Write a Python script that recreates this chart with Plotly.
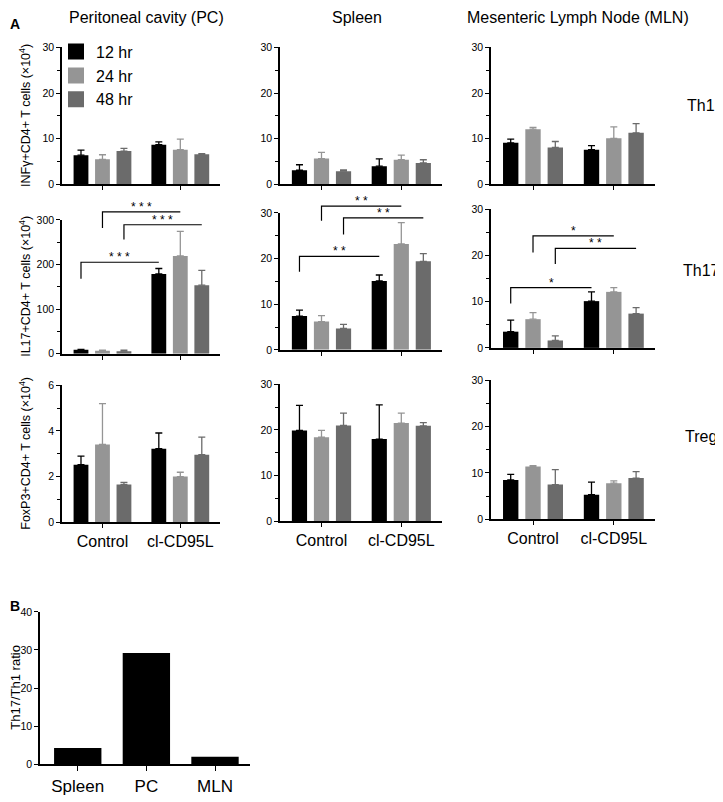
import plotly.graph_objects as go

# ---------------- data ----------------
groups = ["Control", "cl-CD95L"]
times = ["12 hr", "24 hr", "48 hr"]
colors = ["#000000", "#959595", "#6b6b6b"]

# values per time point: [Control, cl-CD95L]
pc_th1 = [[6.4, 8.7], [5.5, 7.6], [7.3, 6.6]]
pc_th1_err = [[1.1, 0.6], [1.0, 2.3], [0.6, 0.15]]
sp_th1 = [[3.1, 4.0], [5.65, 5.4], [2.9, 4.7]]
sp_th1_err = [[1.2, 1.6], [1.35, 1.0], [0.3, 0.7]]
mln_th1 = [[9.1, 7.6], [12.1, 10.1], [8.1, 11.3]]
mln_th1_err = [[0.8, 0.9], [0.4, 2.5], [1.3, 2.0]]

pc_th17 = [[8.8, 178.7], [6.6, 219.0], [5.9, 153.7]]
pc_th17_err = [[1.2, 12.3], [1.4, 55.0], [2.1, 33.3]]
sp_th17 = [[7.4, 15.1], [6.2, 23.2], [4.7, 19.4]]
sp_th17_err = [[1.3, 1.3], [1.3, 4.7], [0.9, 1.7]]
mln_th17 = [[3.5, 10.1], [6.2, 12.1], [1.6, 7.4]]
mln_th17_err = [[2.5, 2.0], [1.4, 0.9], [1.0, 1.3]]

pc_treg = [[2.52, 3.22], [3.41, 2.0], [1.65, 2.96]]
pc_treg_err = [[0.38, 0.69], [1.79, 0.19], [0.09, 0.77]]
sp_treg = [[19.9, 18.0], [18.4, 21.5], [21.0, 20.9]]
sp_treg_err = [[5.5, 7.5], [1.5, 2.2], [2.7, 0.7]]
mln_treg = [[8.5, 5.3], [11.4, 7.8], [7.5, 8.9]]
mln_treg_err = [[1.2, 2.7], [0.2, 0.5], [3.2, 1.4]]

# significance brackets: (time index, left foot value, bar value, label)
pc_brackets = [(0, 168, 205, "* * *"), (1, 282, 318, "* * *"), (2, 256, 289, "* * *")]
sp_brackets = [(0, 17.1, 20.5, "* *"), (1, 28.3, 31.5, "* *"), (2, 25.3, 28.9, "* *")]
mln_brackets = [(0, 9.6, 13.0, "*"), (1, 20.6, 24.2, "*"), (2, 18.1, 21.5, "* *")]

col_titles = ["Peritoneal cavity (PC)", "Spleen", "Mesenteric Lymph Node (MLN)"]
row_labels = ["Th1", "Th17", "Treg"]
y_titles = ["INFγ+CD4+ T cells (×10<sup>4</sup>)",
            "IL17+CD4+ T cells (×10<sup>4</sup>)",
            "FoxP3+CD4+ T cells (×10<sup>4</sup>)"]

ratio_cats = ["Spleen", "PC", "MLN"]
ratio_vals = [4.3, 29.2, 2.0]

# ---------------- layout helpers ----------------
PAGE_W, PAGE_H = 723, 802
OFF = 8  # default page margin around the figure
W, H = PAGE_W - OFF, PAGE_H - OFF
FONT = "Liberation Sans, Arial, Helvetica, sans-serif"


def fx(p):
    return (p - OFF) / W


def fy(p):
    return 1 - (p - OFF) / H


col_x = [(62, 220), (280, 442), (491, 655)]
row_y = [[(42, 181), (42, 181), (42, 181)],
         [(217, 353), (210, 349), (206, 347)],
         [(385, 524), (384, 523), (380, 521)]]

panel_data = [
    [(pc_th1, pc_th1_err), (sp_th1, sp_th1_err), (mln_th1, mln_th1_err)],
    [(pc_th17, pc_th17_err), (sp_th17, sp_th17_err), (mln_th17, mln_th17_err)],
    [(pc_treg, pc_treg_err), (sp_treg, sp_treg_err), (mln_treg, mln_treg_err)],
]
panel_yaxis = [
    [(30, 10, 5), (30, 10, 5), (30, 10, 5)],
    [(300, 100, 50), (30, 10, 5), (30, 10, 5)],
    [(6, 2, 1), (30, 10, 5), (30, 10, 5)],
]
brackets = [pc_brackets, sp_brackets, mln_brackets]

XR = [-0.52, 1.51]
BARGAP = 0.172
SLOT = (1 - BARGAP) / 3

fig = go.Figure()
layout = dict(width=W, height=H, margin=dict(l=0, r=0, t=0, b=0),
              paper_bgcolor="white", plot_bgcolor="white",
              barmode="group", bargap=BARGAP, bargroupgap=0.31,
              font=dict(family=FONT, color="black"),
              showlegend=True)
annotations = []
shapes = []

axis_common = dict(showline=True, linecolor="black", linewidth=1.5,
                   ticks="outside", tickcolor="black", tickwidth=1.2,
                   showgrid=False, zeroline=False, fixedrange=True)

for r in range(3):
    for c in range(3):
        idx = r * 3 + c + 1
        xa = "x" if idx == 1 else f"x{idx}"
        ya = "y" if idx == 1 else f"y{idx}"
        vals, errs = panel_data[r][c]
        for k in range(3):
            fig.add_trace(go.Bar(
                x=groups, y=vals[k], name=times[k], showlegend=False,
                marker=dict(color=colors[k], line=dict(width=0)),
                error_y=dict(type="data", array=errs[k], arrayminus=[0, 0],
                             symmetric=False, color=colors[k],
                             thickness=1.3, width=3.5),
                xaxis=xa, yaxis=ya))
        ymax, dt, mdt = panel_yaxis[r][c]
        x0, x1 = col_x[c]
        y0, y1 = row_y[r][c]
        layout["xaxis" + ("" if idx == 1 else str(idx))] = dict(
            axis_common, domain=[fx(x0), fx(x1)], range=XR, anchor=ya,
            type="category", categoryorder="array", categoryarray=groups,
            ticklen=4, showticklabels=(r == 2), tickfont=dict(size=16))
        layout["yaxis" + ("" if idx == 1 else str(idx))] = dict(
            axis_common, domain=[fy(y1), fy(y0)], range=[0, ymax], anchor=xa,
            dtick=dt, tick0=0, ticklen=4, tickfont=dict(size=10.5),
            minor=dict(dtick=mdt, ticklen=3, tickcolor="black", ticks="outside", tickwidth=1.2))

        # brackets for Th17 row
        if r == 1:
            for (k, foot, top, lab) in brackets[c]:
                off = (k - 1) * SLOT
                xl = (0 + off - XR[0]) / (XR[1] - XR[0])
                xr_ = (1 + off - XR[0]) / (XR[1] - XR[0])
                shapes.append(dict(type="path",
                                   path=f"M{xl},{foot / ymax} L{xl},{top / ymax} L{xr_},{top / ymax}",
                                   xref=f"{xa} domain", yref=f"{ya} domain",
                                   line=dict(color="black", width=1.2)))
                annotations.append(dict(text=lab, x=(xl + xr_) / 2, y=top / ymax,
                                        xref=f"{xa} domain", yref=f"{ya} domain",
                                        xanchor="center", yanchor="bottom", yshift=-4,
                                        showarrow=False, font=dict(size=12)))

# legend dummy traces
for k in range(3):
    fig.add_trace(go.Scatter(x=[None], y=[None], mode="markers", name=times[k],
                             marker=dict(symbol="square", size=16, color=colors[k]),
                             xaxis="x", yaxis="y", showlegend=True, hoverinfo="skip"))

layout["legend"] = dict(x=fx(56), y=fy(29), xanchor="left", yanchor="top",
                        font=dict(size=16), bgcolor="rgba(0,0,0,0)",
                        itemsizing="trace", tracegroupgap=0)

# panel B
fig.add_trace(go.Bar(x=ratio_cats, y=ratio_vals, showlegend=False,
                     marker=dict(color="black", line=dict(width=0)),
                     width=0.69, offset=-0.345, xaxis="x10", yaxis="y10"))
layout["xaxis10"] = dict(axis_common, domain=[fx(40), fx(250)], range=[-0.55, 2.51],
                         anchor="y10", type="category", categoryorder="array",
                         categoryarray=ratio_cats, ticklen=5, tickfont=dict(size=17))
layout["yaxis10"] = dict(axis_common, domain=[fy(770), fy(615)], range=[0, 40],
                         anchor="x10", dtick=10, ticklen=4, tickfont=dict(size=10.5))

# titles and labels
title_cx = [146, 357, 578]
for c in range(3):
    annotations.append(dict(text=col_titles[c], x=fx(title_cx[c]), y=fy(12),
                            xref="paper", yref="paper", xanchor="center", yanchor="middle",
                            showarrow=False, font=dict(size=16)))
row_label_y = [101, 268, 437]
for r in range(3):
    annotations.append(dict(text=row_labels[r], x=fx(701), y=fy(row_label_y[r]),
                            xref="paper", yref="paper", xanchor="center", yanchor="middle",
                            showarrow=False, font=dict(size=16)))
    y0, y1 = row_y[r][0]
    annotations.append(dict(text=y_titles[r], x=fx(25), y=fy((y0 + y1) / 2),
                            xref="paper", yref="paper", xanchor="center", yanchor="middle",
                            textangle=-90, showarrow=False, font=dict(size=12.5)))
annotations.append(dict(text="Th17/Th1 ratio", x=fx(16), y=fy(692),
                        xref="paper", yref="paper", xanchor="center", yanchor="middle",
                        textangle=-90, showarrow=False, font=dict(size=13)))
annotations.append(dict(text="<b>A</b>", x=0, y=1, xref="paper", yref="paper",
                        xanchor="left", yanchor="top", showarrow=False, font=dict(size=14)))
annotations.append(dict(text="<b>B</b>", x=0, y=fy(599), xref="paper", yref="paper",
                        xanchor="left", yanchor="top", showarrow=False, font=dict(size=14)))

layout["annotations"] = annotations
layout["shapes"] = shapes
fig.update_layout(**layout)
fig.write_html("out.html")
